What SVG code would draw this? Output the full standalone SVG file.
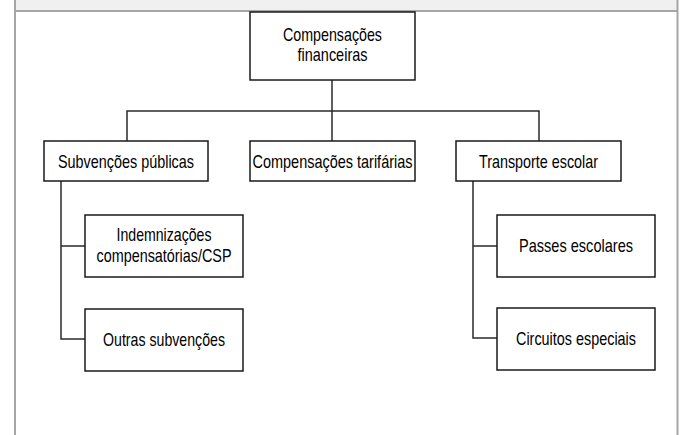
<svg xmlns="http://www.w3.org/2000/svg" width="681" height="435" viewBox="0 0 681 435">
<style>
.box{fill:#fff;stroke:#1a1a1a;stroke-width:1.5}
.t{font-family:"Liberation Sans",Arial,sans-serif;font-size:19px;fill:#000;text-anchor:middle}
.c{fill:none;stroke:#2a2a2a;stroke-width:1.5}
.frame{fill:none;stroke:#a6a6a6;stroke-width:2}
</style>
<rect x="0" y="0" width="681" height="435" fill="#fff"/>
<rect x="15" y="0" width="663" height="11" fill="#f0f0f0"/>
<g id="frame">
<line class="frame" x1="15" y1="11" x2="678" y2="11"/>
<line class="frame" x1="15" y1="0" x2="15" y2="435"/>
<line class="frame" x1="677.5" y1="0" x2="677.5" y2="435"/>
</g>
<g id="connectors">
<path class="c" d="M332 80 V141"/>
<path class="c" d="M127 141 V111 H539 V141"/>
<path class="c" d="M61 181 V339 H85 M61 246 H85"/>
<path class="c" d="M473 181 V338 H497 M473 246 H497"/>
</g>
<g id="n-root">
<rect class="box" x="250" y="12" width="165" height="68"/>
<text class="t" x="332.5" y="41" textLength="99" lengthAdjust="spacingAndGlyphs">Compensações</text>
<text class="t" x="332.5" y="61" textLength="70" lengthAdjust="spacingAndGlyphs">financeiras</text>
</g>
<g id="n-subv">
<rect class="box" x="44" y="141" width="164" height="40"/>
<text class="t" x="126" y="168" textLength="136" lengthAdjust="spacingAndGlyphs">Subvenções públicas</text>
</g>
<g id="n-tarif">
<rect class="box" x="250" y="141" width="165" height="40"/>
<text class="t" x="332.5" y="168" textLength="160" lengthAdjust="spacingAndGlyphs">Compensações tarifárias</text>
</g>
<g id="n-transp">
<rect class="box" x="456" y="141" width="165" height="40"/>
<text class="t" x="538.5" y="168" textLength="119" lengthAdjust="spacingAndGlyphs">Transporte escolar</text>
</g>
<g id="n-indem">
<rect class="box" x="85" y="215" width="158" height="62"/>
<text class="t" x="164" y="241" textLength="95" lengthAdjust="spacingAndGlyphs">Indemnizações</text>
<text class="t" x="164" y="262" textLength="135" lengthAdjust="spacingAndGlyphs">compensatórias/CSP</text>
</g>
<g id="n-outras">
<rect class="box" x="85" y="309" width="158" height="62"/>
<text class="t" x="164" y="346" textLength="122" lengthAdjust="spacingAndGlyphs">Outras subvenções</text>
</g>
<g id="n-passes">
<rect class="box" x="497" y="215" width="158" height="62"/>
<text class="t" x="576" y="252" textLength="114" lengthAdjust="spacingAndGlyphs">Passes escolares</text>
</g>
<g id="n-circ">
<rect class="box" x="497" y="308" width="158" height="62"/>
<text class="t" x="576" y="345" textLength="120" lengthAdjust="spacingAndGlyphs">Circuitos especiais</text>
</g>
</svg>
